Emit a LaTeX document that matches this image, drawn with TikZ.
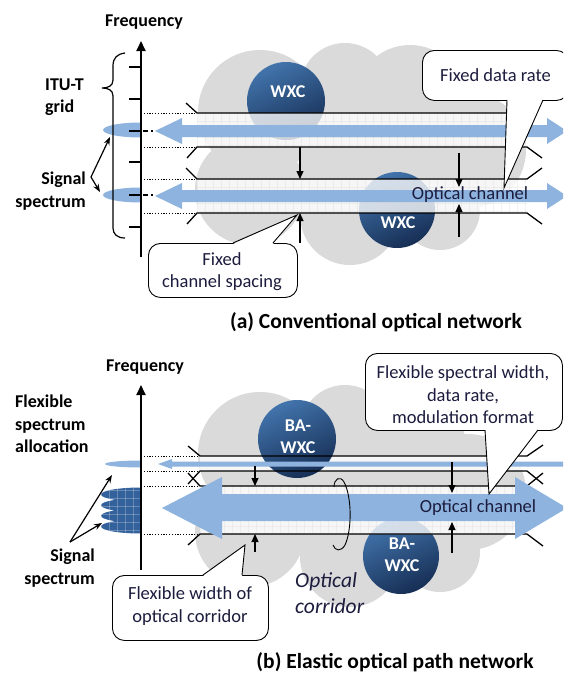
\documentclass[tikz,border=0pt]{standalone}
\usepackage{fontspec}
\setmainfont{Carlito}
\usetikzlibrary{arrows.meta}

\definecolor{cloudgray}{RGB}{218,218,218}
\definecolor{chanblue}{RGB}{141,179,222}
\definecolor{specblue}{RGB}{50,97,156}
\definecolor{wxclight}{RGB}{66,116,172}
\definecolor{wxcdark}{RGB}{22,46,84}
\definecolor{inktext}{RGB}{28,28,62}
\definecolor{gridgray}{RGB}{215,215,215}

\tikzset{
  lbl/.style={font=\fontsize{18}{22.5}\selectfont\bfseries, inner sep=0pt},
  txt/.style={font=\fontsize{18.5}{22.5}\selectfont, text=inktext, inner sep=0pt, align=center},
  captext/.style={font=\fontsize{21.5}{26}\selectfont\bfseries, inner sep=0pt},
  wxctext/.style={font=\fontsize{18}{22}\selectfont\bfseries, text=white, inner sep=0pt, align=center},
  wxcball/.style={circle, inner sep=0pt, shading=axis, top color=wxclight, bottom color=wxcdark, shading angle=25},
  chline/.style={line width=1.3pt, line join=round},
  dotline/.style={line width=0.9pt, dash pattern=on 1.2pt off 1.6pt},
  freqaxis/.style={line width=1.8pt, -{Triangle[length=10pt,width=9pt]}},
  tickmark/.style={line width=1.8pt},
  gaparrow/.style={line width=1.1pt, -{Triangle[length=8pt,width=7pt]}},
  labarrow/.style={line width=1.2pt, -{Stealth[length=8pt,width=6pt]}},
  bubble/.style={draw, line width=0.9pt, fill=white, rounded corners=12pt, inner sep=0pt},
  bubbleedge/.style={line width=0.9pt, line join=miter},
  chanfill/.style={fill=white, fill opacity=0.78},
  gridline/.style={draw=gridgray, line width=0.4pt, opacity=0.3},
}

% white band with a faint grid between two channel edges: x1, x2, y1, y2
\newcommand\chanband[4]{%
  \fill[chanfill] (#1,#3) rectangle (#2,#4);
  \begin{scope}
    \clip (#1,#3) rectangle (#2,#4);
    \foreach \gx in {0,8,...,344} \draw[gridline] ({#1+\gx},#3) -- ({#1+\gx},#4);
    \foreach \gy in {0,8,...,56} \draw[gridline] (#1,{#3+\gy}) -- (#2,{#3+\gy});
  \end{scope}}

% gray cloud made of overlapping discs, shifted vertically by #1
\newcommand\netcloud[1]{%
  \fill[cloudgray] (260,112+#1) circle[radius=62] (345,88+#1) circle[radius=45]
    (410,100+#1) circle[radius=55] (468,150+#1) circle[radius=58]
    (440,210+#1) circle[radius=40] (350,215+#1) circle[radius=50]
    (250,190+#1) circle[radius=55] (370,160+#1) circle[radius=70];}

\begin{document}
\begin{tikzpicture}[x=1pt,y=-1pt]
\useasboundingbox[fill=white] (0,0) rectangle (563,675);
\begin{scope}
\clip (0,0) rectangle (563,675);

%%%%%%%%%%%%%%%% (a) conventional optical network %%%%%%%%%%%%%%%%
\netcloud{0}
\node[wxcball, minimum size=78pt] (ballA1) at (286,101) {};
\node[wxctext] (wxcA1) at (288,92) {WXC};
\node[wxcball, minimum size=76pt] (ballA2) at (397,210) {};
\node[wxctext] (wxcA2) at (398,223) {WXC};

\chanband{197}{527}{113}{147}
\chanband{197}{527}{179}{213}

% channel edges with flared ends
\draw[chline] (186,103) -- (197,113) -- (527,113);
\draw[chline] (187,158) -- (197,147) -- (527,147) -- (542,158);
\draw[chline] (186,168) -- (197,179) -- (527,179) -- (542,168);
\draw[chline] (187,224) -- (197,213) -- (527,213) -- (542,224);
\foreach \yy in {113,147,179,213} \draw[dotline] (141,\yy) -- (196,\yy);

% optical channels
\fill[chanblue] (155,131) -- (182,118) -- (182,125) -- (547,125) -- (547,118) -- (567,131)
  -- (547,144) -- (547,137) -- (182,137) -- (182,144) -- cycle;
\fill[chanblue] (155,196) -- (182,183) -- (182,190) -- (547,190) -- (547,183) -- (567,196)
  -- (547,209) -- (547,202) -- (182,202) -- (182,209) -- cycle;

% spacing markers
\draw[gaparrow] (300,147) -- (300,179);
\draw[gaparrow] (300,243) -- (300,213);
\draw[gaparrow] (459,153) -- (459,187);
\draw[gaparrow] (459,237) -- (459,204);

% signal spectra on the frequency axis
\begin{scope}
  \clip (95,100) rectangle (141,230);
  \fill[chanblue] (141,130) ellipse[x radius=38, y radius=7.5];
  \fill[chanblue] (141,195) ellipse[x radius=38, y radius=7.5];
\end{scope}
\coordinate (axA0) at (141,257);
\coordinate (axA1) at (141,41);
\draw[freqaxis] (axA0) -- (axA1);
\foreach \yy in {67,99,131,162,195,227} \draw[tickmark] (129,\yy) -- (141,\yy);
\foreach \yy in {131,195} \draw[line width=1.3pt, dash pattern=on 5pt off 3pt on 1.5pt off 20pt] (143,\yy) -- (158,\yy);

\node[lbl] (freqA) at (144,22) {Frequency};
\node[lbl, align=left, anchor=west] (ituA) at (45,97) {ITU-T\\grid};
\draw[line width=1.2pt] (125,53) .. controls (117,54) and (113,58) .. (113,66) -- (113,80)
  .. controls (113,86) and (108,88) .. (102,88) .. controls (108,88) and (113,90) .. (113,96)
  -- (113,228) .. controls (113,234) and (117,238) .. (125,238);
\node[lbl, align=right, anchor=east] (sigA) at (86,191) {Signal\\spectrum};
\coordinate (sigAfrom) at (91,177);
\coordinate (sigAto1) at (110,137);
\coordinate (sigAto2) at (100,192);
\draw[labarrow] (sigAfrom) -- (sigAto1);
\draw[labarrow] (sigAfrom) -- (sigAto2);

\node[txt] (chA) at (470,195) {Optical channel};

% callouts
\node[bubble, minimum width=146pt, minimum height=50pt, anchor=north west] (rateA) at (422,50) {};
\fill[white] (507,99) -- (504,188) -- (543,99) -- cycle;
\draw[bubbleedge] (507,100) -- (504,188) -- (543,100);
\node[txt] at (rateA.center) {Fixed data rate};

\node[bubble, minimum width=149pt, minimum height=54pt, anchor=north west] (spaceA) at (148,243) {};
\fill[white] (233,244) -- (297,215) -- (273,244) -- cycle;
\draw[bubbleedge] (233,243) -- (297,215) -- (273,243);
\node[txt] at (222,271.5) {Fixed\\channel spacing};

\node[captext] (capA) at (376,322) {(a) Conventional optical network};

%%%%%%%%%%%%%%%% (b) elastic optical path network %%%%%%%%%%%%%%%%
\netcloud{342}
\fill[chanfill] (200,456) rectangle (527,471);
\node[wxcball, minimum size=78pt] (ballB1) at (297,439) {};
\node[wxctext] (wxcB1) at (298,437) {BA-\\WXC};
\node[wxcball, minimum size=76pt] (ballB2) at (401,556) {};
\node[wxctext] (wxcB2) at (402,554.5) {BA-\\WXC};

\chanband{200}{527}{486}{534}

\draw[chline] (188,446) -- (200,456) -- (527,456) -- (543,445);
\draw[chline] (188,484) -- (200,471) -- (527,471) -- (543,484);
\draw[chline] (188,473) -- (200,486) -- (527,486) -- (543,473);
\draw[chline] (188,545) -- (200,534) -- (527,534) -- (543,546);
\foreach \yy in {456,471,486,534} \draw[dotline] (141,\yy) -- (199,\yy);

% narrow and wide optical channels
\fill[chanblue] (158,464) -- (172,459) -- (172,461.5) -- (570,461.5) -- (570,466.5)
  -- (172,466.5) -- (172,469) -- cycle;
\fill[chanblue] (162,508) -- (222,477) -- (222,494) -- (515,494) -- (515,477) -- (567,508)
  -- (515,539) -- (515,521) -- (222,521) -- (222,539) -- cycle;

\draw[gaparrow] (255,466) -- (255,486);
\draw[gaparrow] (255,552) -- (255,534);
\draw[gaparrow] (452,462) -- (452,493);
\draw[gaparrow] (452,553) -- (452,522);

% ring marking the optical corridor
\draw[line width=0.9pt] (334,487) .. controls (334,479) and (340,475) .. (344,482)
  .. controls (352,497) and (352,530) .. (345,545) .. controls (341,552) and (335,551) .. (333,545);

% spectra on the frequency axis
\begin{scope}
  \clip (95,440) rectangle (141,560);
  \fill[chanblue] (141,464) ellipse[x radius=36, y radius=3.5];
  \fill[specblue] (141,494.5) ellipse[x radius=40, y radius=7]
                  (141,505.2) ellipse[x radius=40, y radius=7]
                  (141,515.8) ellipse[x radius=40, y radius=7]
                  (141,526.5) ellipse[x radius=40, y radius=7];
  \clip (141,494.5) ellipse[x radius=40, y radius=7] (141,505.2) ellipse[x radius=40, y radius=7]
        (141,515.8) ellipse[x radius=40, y radius=7] (141,526.5) ellipse[x radius=40, y radius=7];
  \foreach \gx in {101,109,...,141} \draw[white, opacity=0.25, line width=0.6pt] (\gx,485) -- (\gx,535);
  \foreach \gy in {490,498,...,534} \draw[white, opacity=0.25, line width=0.6pt] (100,\gy) -- (141,\gy);
\end{scope}
\coordinate (axB0) at (141,570);
\coordinate (axB1) at (141,385);
\draw[freqaxis] (axB0) -- (axB1);

\node[lbl] (freqB) at (145,367) {Frequency};
\node[lbl, align=left, anchor=west] (flexB) at (15,424) {Flexible\\spectrum\\allocation};
\node[lbl, align=right, anchor=east] (sigB) at (95,568) {Signal\\spectrum};
\coordinate (sigBfrom) at (70,542);
\coordinate (sigBto1) at (112,475);
\coordinate (sigBto2) at (102,523);
\draw[labarrow] (sigBfrom) -- (sigBto1);
\draw[labarrow] (sigBfrom) -- (sigBto2);

\node[txt] (chB) at (478,508) {Optical channel};
\node[font=\fontsize{21.5}{26}\selectfont\itshape, text=inktext, align=left, anchor=west, inner sep=0pt]
  (corrB) at (295,593) {Optical\\corridor};

\node[bubble, minimum width=197pt, minimum height=77pt, anchor=north west] (flexrate) at (365,353) {};
\fill[white] (485,429) -- (489,494) -- (538,429) -- cycle;
\draw[bubbleedge] (485,430) -- (489,494) -- (538,430);
\node[txt] at (463,395) {Flexible spectral width,\\data rate,\\modulation format};

\node[bubble, minimum width=156pt, minimum height=65pt, anchor=north west] (widthB) at (112,575) {};
\fill[white] (203,576) -- (245,545) -- (242,576) -- cycle;
\draw[bubbleedge] (203,575) -- (245,545) -- (242,575);
\node[txt] at (190,606) {Flexible width of\\optical corridor};

\node[captext] (capB) at (395,662) {(b) Elastic optical path network};
\end{scope}
\end{tikzpicture}
\end{document}
